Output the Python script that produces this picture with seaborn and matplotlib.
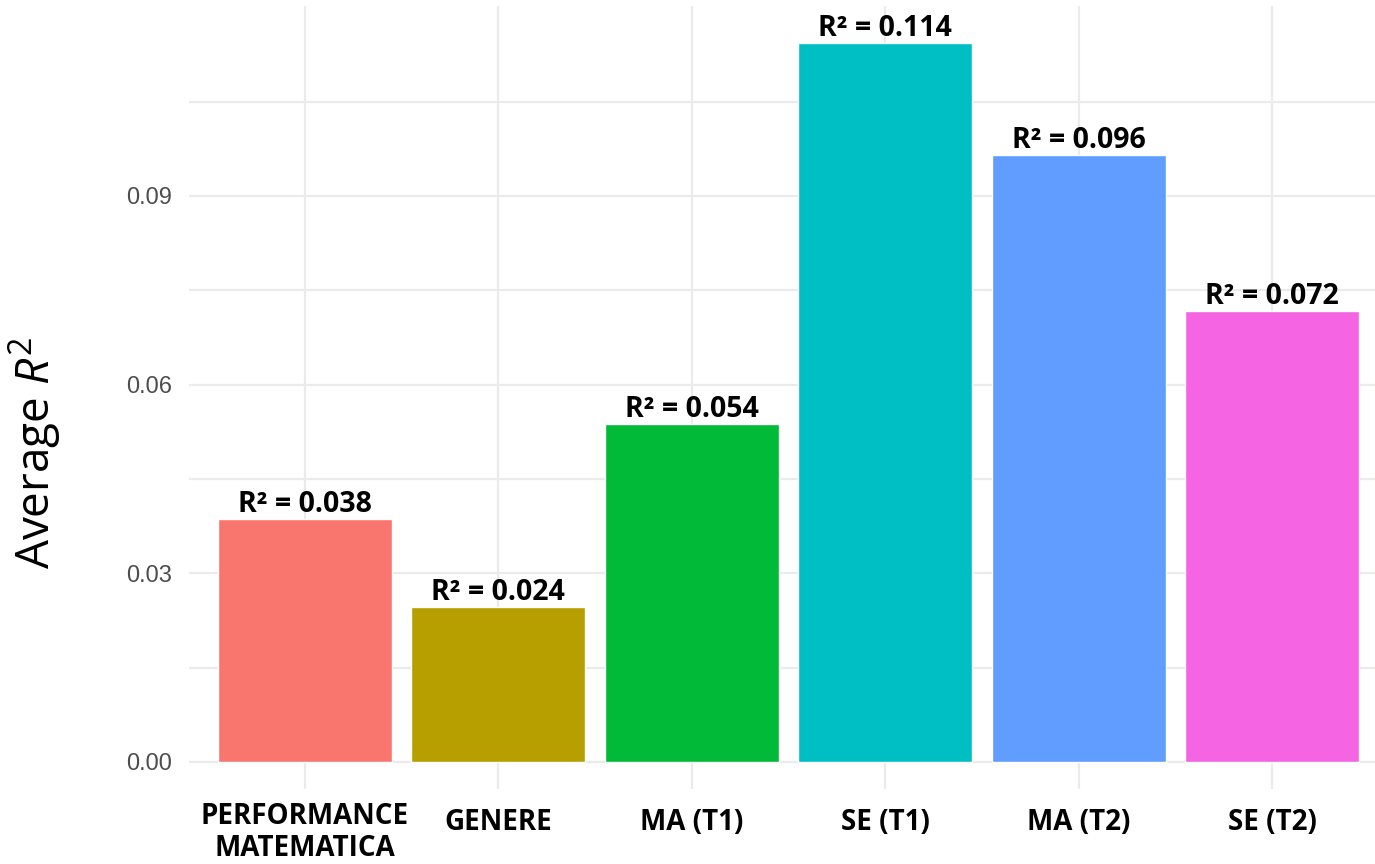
import matplotlib
matplotlib.use("Agg")
import matplotlib.pyplot as plt
import seaborn as sns
from matplotlib.transforms import ScaledTranslation

# data
categories = ["PERFORMANCE\nMATEMATICA", "GENERE", "MA (T1)", "SE (T1)", "MA (T2)", "SE (T2)"]
avg_r2 = [0.0386, 0.0246, 0.0537, 0.1143, 0.0965, 0.0717]
r2_labels = ["0.038", "0.024", "0.054", "0.114", "0.096", "0.072"]
bar_colors = ["#F8766D", "#B79F00", "#00BA38", "#00BFC4", "#619CFF", "#F564E3"]
y_ticks = [0.00, 0.03, 0.06, 0.09]
y_minor = [0.015, 0.045, 0.075, 0.105]

GRID_COLOR = "#EBEBEB"
LABEL_FONT = "Open Sans"

sns.set_style("white")
plt.rcParams["font.family"] = ["Liberation Sans", "DejaVu Sans"]
plt.rcParams["text.color"] = "black"
plt.rcParams["mathtext.fontset"] = "custom"
plt.rcParams["mathtext.rm"] = LABEL_FONT
plt.rcParams["mathtext.it"] = LABEL_FONT + ":italic"

fig = plt.figure(figsize=(13.75, 8.64), dpi=100)
ax = fig.add_axes([189 / 1375, 1 - 789 / 864, (1388 - 189) / 1375, (789 - 6) / 864])

sns.barplot(
    x=categories,
    y=avg_r2,
    hue=categories,
    palette=bar_colors,
    width=0.9,
    saturation=1,
    legend=False,
    ax=ax,
    zorder=3,
)

ax.set_xlim(-0.6, 5.6)
ax.set_ylim(-0.0043, 0.1202)
ax.set_yticks(y_ticks)
ax.set_yticklabels([f"{t:.2f}" for t in y_ticks])
ax.set_yticks(y_minor, minor=True)

ax.grid(True, which="both", color=GRID_COLOR, linewidth=1.6, zorder=0)
ax.set_axisbelow(True)
for s in ax.spines.values():
    s.set_visible(False)
ax.tick_params(axis="both", which="both", length=0)
ax.tick_params(axis="y", labelsize=17, labelcolor="#4D4D4D", pad=12)
ax.tick_params(axis="x", pad=14, labelcolor="black")

for lbl in ax.get_xticklabels():
    lbl.set_fontfamily(LABEL_FONT)
    lbl.set_fontweight("bold")
    lbl.set_fontsize(20)
    lbl.set_linespacing(1.1)
first = ax.get_xticklabels()[0]
first.set_transform(first.get_transform() + ScaledTranslation(0, 6 / 100, fig.dpi_scale_trans))

for i, (v, txt) in enumerate(zip(avg_r2, r2_labels)):
    ax.annotate(
        f"R\u00b2 = {txt}",
        xy=(i, v),
        xytext=(0, 5),
        textcoords="offset points",
        ha="center",
        va="baseline",
        color="black",
        fontfamily=LABEL_FONT,
        fontweight="bold",
        fontsize=20.5,
        zorder=4,
    )

ax.set_xlabel("")
ax.set_ylabel(r"Average $\mathit{R}^2$", fontfamily=LABEL_FONT, fontsize=33, color="black")
ax.yaxis.set_label_coords(-0.105, 0.43)

fig.savefig("out.png", dpi=100)
